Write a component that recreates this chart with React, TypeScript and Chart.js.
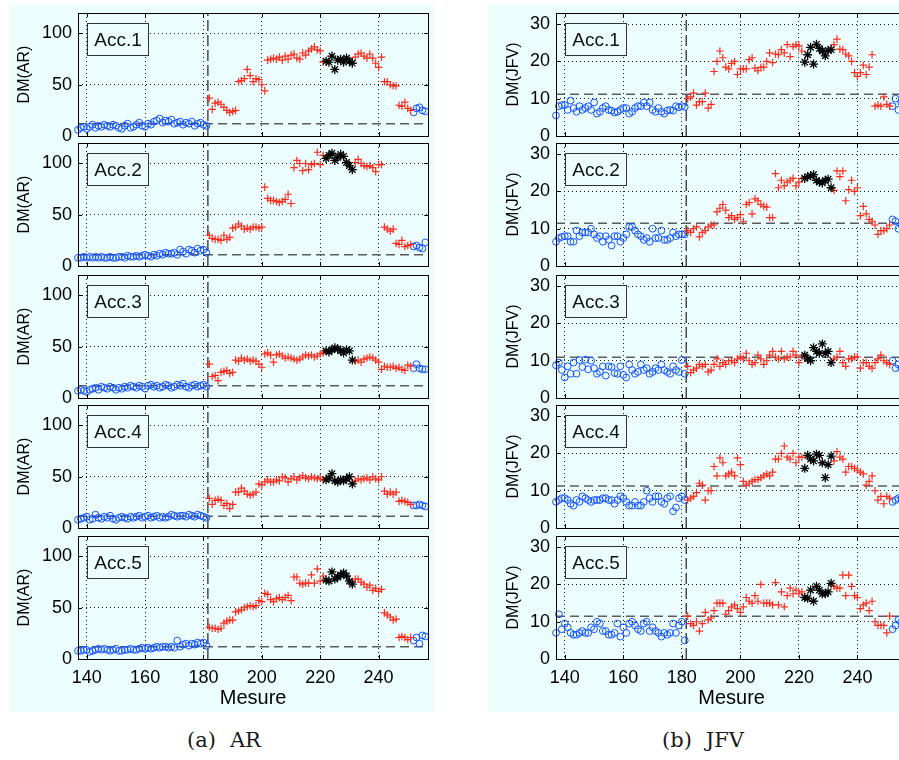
import React, { useEffect, useRef } from 'react';
import { Chart, registerables } from 'chart.js';

Chart.register(...registerables);
Chart.defaults.font.family = "'Liberation Sans', Arial, sans-serif";
Chart.defaults.color = '#000';

// ---------------- data ----------------
const X_FIRST = 137; // first measurement index
const X_MIN = 137;
const X_MAX = 257;
const X_TICKS = [140, 160, 180, 200, 220, 240];
const AR_Y_TICKS = [0, 50, 100];
const JFV_Y_TICKS = [0, 10, 20, 30];
const AR_Y_MAX = 120;
const JFV_Y_MAX = 33;
const CHANGE_POINT = 181.5;
const HEALTHY_END = 181;
const STAR_FIRST = 222;
const STAR_LAST = 231;
const HEALTHY_RESTART = 252;
const ACC_LABELS = ['Acc.1', 'Acc.2', 'Acc.3', 'Acc.4', 'Acc.5'];
const AR_THRESHOLDS = [12, 11, 12, 11.5, 12];
const JFV_THRESHOLDS = [11.2, 11.5, 10.9, 11.3, 11.5];

// values for measurements 137..256 (blue 137-181, red 182-221, stars 222-231, red 232-251, blue 252-256)
const AR_ACC1 = [
  6, 8, 9, 7, 9, 11, 8, 10, 9, 11, 10, 9, 11, 10, 8, 7, 10, 12, 8, 9, 11, 13, 10, 9, 12, 11, 14, 15, 17, 13, 15, 14, 16, 12, 13, 14, 11, 13, 12, 14, 10, 12, 13, 11, 10,
  37, 26, 32, 33, 31, 28, 25, 23, 24, 25, 53, 54, 56, 65, 59, 53, 56, 55, 50, 44, 74, 75, 76, 75, 77, 74, 78, 75, 79, 80, 76, 75, 81, 79, 83, 85, 87, 84, 83, 72,
  73, 72, 78, 65, 74, 75, 72, 76, 73, 71,
  77, 80, 81, 78, 76, 80, 76, 71, 67, 77, 53, 53, 50, 49, 49, 30, 29, 33, 27, 25,
  23, 27, 28, 25, 24,
];
const AR_ACC2 = [
  8, 8, 9, 8, 9, 8, 9, 8, 9, 8, 8, 9, 8, 8, 9, 9, 8, 10, 9, 9, 10, 9, 10, 11, 10, 9, 11, 10, 12, 11, 13, 12, 12, 13, 11, 16, 14, 12, 16, 15, 13, 17, 15, 16, 13,
  30, 27, 26, 26, 25, 30, 26, 28, 37, 38, 41, 39, 36, 37, 36, 38, 38, 37, 38, 77, 66, 64, 64, 63, 62, 63, 65, 70, 61, 96, 103, 100, 93, 100, 94, 99, 100, 111, 99, 108,
  105, 108, 110, 103, 106, 109, 107, 101, 98, 94,
  101, 104, 100, 98, 97, 98, 96, 92, 99, 99, 38, 36, 34, 36, 22, 21, 25, 19, 20, 21,
  19, 20, 18, 17, 23,
];
const AR_ACC3 = [
  7, 8, 7, 6, 8, 9, 10, 8, 11, 10, 9, 11, 10, 8, 10, 9, 11, 10, 12, 11, 10, 12, 11, 9, 12, 13, 11, 12, 10, 11, 13, 12, 10, 11, 13, 12, 14, 11, 10, 12, 13, 11, 12, 13, 11,
  33, 21, 22, 17, 25, 26, 27, 24, 25, 37, 36, 39, 37, 38, 36, 37, 36, 33, 30, 43, 44, 42, 35, 42, 43, 41, 39, 40, 39, 38, 37, 38, 40, 42, 41, 42, 40, 41, 43, 44,
  46, 45, 47, 49, 48, 46, 44, 47, 46, 37,
  36, 37, 35, 38, 39, 40, 39, 37, 35, 28, 31, 30, 30, 31, 29, 30, 28, 27, 32, 31,
  29, 33, 29, 28, 28,
];
const AR_ACC4 = [
  8, 9, 10, 11, 8, 9, 13, 10, 9, 11, 10, 12, 9, 8, 10, 11, 10, 9, 11, 10, 11, 12, 10, 11, 12, 10, 11, 12, 10, 11, 10, 11, 13, 12, 11, 12, 12, 11, 13, 12, 11, 13, 12, 11, 10,
  29, 23, 27, 28, 27, 22, 24, 19, 23, 35, 35, 39, 36, 33, 32, 33, 35, 43, 42, 45, 47, 45, 45, 47, 46, 50, 49, 45, 48, 50, 47, 49, 51, 49, 48, 50, 49, 48, 49, 47,
  47, 49, 53, 46, 45, 47, 46, 48, 50, 43,
  46, 48, 47, 48, 49, 47, 50, 48, 47, 50, 36, 33, 35, 33, 35, 26, 27, 26, 25, 23,
  22, 22, 23, 22, 21,
];
const AR_ACC5 = [
  8, 8, 9, 9, 7, 8, 9, 10, 9, 10, 9, 8, 9, 10, 8, 8, 9, 9, 10, 9, 9, 10, 11, 10, 11, 10, 11, 12, 11, 12, 12, 11, 12, 11, 18, 12, 14, 15, 13, 15, 14, 16, 15, 16, 13,
  31, 30, 30, 29, 30, 35, 37, 38, 38, 46, 47, 48, 50, 51, 52, 51, 52, 57, 56, 64, 63, 58, 56, 59, 60, 58, 60, 62, 57, 80, 80, 74, 73, 74, 74, 82, 74, 88, 76, 81,
  77, 76, 85, 78, 80, 82, 84, 81, 76, 73,
  78, 78, 75, 73, 70, 72, 67, 69, 66, 68, 45, 43, 41, 38, 39, 21, 22, 21, 19, 21,
  18, 21, 15, 23, 22,
];
const JFV_ACC1 = [
  5.5, 8, 8.3, 8.3, 7, 9.5, 7.5, 6.5, 8, 7, 7.5, 8, 7, 9, 6, 6.5, 7.5, 8, 7, 6.8, 6.3, 6.5, 7, 7.5, 7.5, 6, 6.5, 7.5, 8, 8, 9, 8, 9, 7, 6.5, 7.5, 6.5, 6, 6.8, 7, 6.8, 8, 7.7, 8, 7.8,
  10, 10.5, 11.5, 8.3, 9.2, 9.2, 11.5, 7.5, 8.5, 17.3, 20, 22.8, 21, 18.5, 18, 19.5, 20, 16.5, 18, 18, 18, 20.5, 21, 18.2, 17.5, 18.4, 18.5, 20, 22.3, 19.7, 22, 21.8, 23.2, 22.3, 24.5, 21.3, 24, 24.5, 24.2, 22.8,
  19.8, 21.8, 23.8, 19.3, 24.6, 23.5, 22.8, 21.5, 23, 23.2,
  24.5, 26, 23.3, 23.2, 22, 21.5, 20, 17, 16, 17, 19, 16.5, 18.5, 21.8, 8, 8.3, 8, 10.5, 8.5, 8,
  8, 10, 7, 9, 8,
];
const JFV_ACC2 = [
  6.5, 7.5, 7.8, 8, 8, 6.5, 6.5, 9.5, 8, 9, 9, 9, 10, 8.5, 7.5, 8, 6.5, 8, 7, 5.5, 8, 8, 6.5, 7.5, 8.5, 10.5, 10.5, 9.5, 8.5, 8, 7, 7.5, 6.5, 10, 7.5, 7.5, 9.5, 7, 7, 7.5, 9, 8, 8.5, 8.5, 8.5,
  9.5, 9, 10, 10.5, 7.8, 9, 9.5, 10.5, 11, 11, 14.5, 15.5, 16.5, 15, 13, 13.5, 12.5, 13, 13.8, 12, 16.5, 17, 14, 18, 17.5, 16.5, 16, 15.8, 13, 13, 24.8, 21, 23, 21.5, 22.5, 23, 23.5, 21.5, 22.5, 23.5,
  23.5, 24, 24.2, 24.5, 23, 22.5, 22.3, 23, 23.3, 21,
  20.3, 25.5, 24, 25.5, 17.5, 20.5, 23, 20, 21, 13.5, 16, 14, 12.5, 12, 11, 8.5, 9.5, 9.5, 10, 11,
  12.5, 12, 10, 11, 10,
];
const JFV_ACC3 = [
  8.8, 9.5, 7.5, 5.5, 8.5, 6.5, 9.5, 6.5, 10.2, 8.3, 10.3, 7.7, 10, 8, 6.5, 7, 8.5, 6, 8.5, 8.3, 6.7, 6.5, 8.5, 6.2, 5.5, 9, 7.5, 6.5, 7, 9, 7.5, 8, 6.5, 7, 8, 7.5, 9, 7.5, 7, 6.5, 8.5, 7.5, 7, 10.2, 6.5,
  8.5, 6.8, 7.5, 8, 9, 8.5, 9, 7, 7.5, 9, 10.5, 8.5, 9.5, 9, 10, 10, 9.5, 10.5, 11, 10.5, 12, 10, 9, 9.5, 11.5, 10.5, 9, 10, 11.5, 12.5, 11, 10.5, 12.5, 10.5, 11, 11, 12.5, 11.5, 9.5, 11,
  11.5, 10.5, 10, 13.5, 12.5, 12, 14.5, 12, 12.5, 9.5,
  10.5, 11, 12.5, 9.5, 8.5, 10.5, 10.5, 11, 11, 8, 9.5, 9.5, 8.5, 8, 9.5, 10.5, 11.5, 10, 9.5, 9,
  10, 8, 9, 8, 9,
];
const JFV_ACC4 = [
  7, 7.5, 8, 8, 7.5, 6.5, 6, 7.5, 7, 8.5, 8, 7.5, 7, 7.5, 7.5, 7.5, 8, 8, 7.5, 7.5, 6.5, 7.5, 8.5, 8, 7, 6, 6, 7, 6, 6, 7, 10, 8, 7, 8.5, 8.5, 7, 6.5, 8, 8.5, 4.5, 5.5, 8, 8.5, 7.5,
  7.5, 8, 8.5, 9.5, 12, 11.5, 7.5, 10, 10, 16.5, 14, 18.8, 17.5, 14, 14.5, 15, 14, 18.8, 17, 12.5, 11.5, 12, 12.5, 13, 13, 13.5, 14, 14.5, 14, 15, 18.5, 18.5, 20, 22, 19, 18.5, 20, 17.5, 19, 19,
  16, 19.5, 18.5, 18, 19.8, 19.5, 17.5, 13.5, 17, 19.3,
  18, 20.5, 19, 18.5, 15, 16.5, 16.5, 16, 15.5, 15, 14.5, 11.5, 12.5, 14, 10, 7.5, 8.5, 6.5, 8.5, 8,
  7, 7.5, 8, 8, 8,
];
const JFV_ACC5 = [
  7, 12, 8, 9.5, 8.5, 7, 6.5, 6.5, 7, 7.5, 7, 7, 8.5, 8, 10, 9.5, 7.5, 7.5, 6.5, 6.5, 7, 9.5, 6, 8.5, 7, 9.5, 10, 9, 8, 7.5, 9.5, 10, 7.5, 8.5, 7.5, 7, 6, 7, 6.5, 7, 9.5, 7, 9, 10, 5,
  11.5, 9.5, 9, 10, 7.5, 9.5, 12.5, 10.5, 11, 13, 15, 15, 15, 12, 13, 14, 14.5, 13.5, 12.5, 14, 16.5, 15.5, 15, 17, 15.5, 20, 15, 15, 15, 14.5, 20.5, 14.5, 18, 14, 17, 19, 17.5, 18.5, 17.5, 18,
  16.5, 16.3, 18.5, 15.5, 19.5, 18.5, 17.5, 17.5, 18, 20.3,
  19.5, 19, 19, 22.5, 17, 22.5, 19.5, 17, 16.5, 13.5, 14.5, 15, 13, 15.5, 10, 9, 9, 9, 7, 11.5,
  8, 9, 10.5, 10, 9,
];

const AR_SERIES = [AR_ACC1, AR_ACC2, AR_ACC3, AR_ACC4, AR_ACC5];
const JFV_SERIES = [JFV_ACC1, JFV_ACC2, JFV_ACC3, JFV_ACC4, JFV_ACC5];

// ---------------- styling / layout ----------------
const PANEL_BG = '#ecfdfe';
const BLUE = '#1452ff';
const RED = '#ff2d1e';
const ROW_TOPS = [13, 143, 275, 405, 536];
const PLOT_H = 123;

const framePlugin = {
  id: 'frame',
  afterDraw(chart: any, _args: any, opts: any) {
    const { ctx, chartArea: a, scales } = chart;
    ctx.save();
    ctx.strokeStyle = '#000';
    ctx.lineWidth = 1;
    ctx.setLineDash([]);
    ctx.beginPath();
    for (const v of X_TICKS) {
      const px = Math.round(scales.x.getPixelForValue(v)) + 0.5;
      ctx.moveTo(px, a.bottom);
      ctx.lineTo(px, a.bottom - 4);
      ctx.moveTo(px, a.top);
      ctx.lineTo(px, a.top + 4);
    }
    for (const v of opts.yTicks) {
      const py = Math.round(scales.y.getPixelForValue(v)) + 0.5;
      ctx.moveTo(a.left, py);
      ctx.lineTo(a.left + 4, py);
      ctx.moveTo(a.right, py);
      ctx.lineTo(a.right - 4, py);
    }
    ctx.stroke();
    ctx.strokeRect(Math.round(a.left) + 0.5, Math.round(a.top) + 0.5, Math.round(a.right - a.left), Math.round(a.bottom - a.top));
    // label box
    const bx = Math.round(a.left) + 9.5;
    const by = Math.round(a.top) + 10.5;
    const bw = 61;
    const bh = 32;
    ctx.fillStyle = PANEL_BG;
    ctx.fillRect(bx, by, bw, bh);
    ctx.strokeStyle = '#333';
    ctx.strokeRect(bx, by, bw, bh);
    ctx.fillStyle = '#111';
    ctx.font = "19px 'Liberation Sans', Arial, sans-serif";
    ctx.textAlign = 'center';
    ctx.textBaseline = 'middle';
    ctx.fillText(opts.label, bx + bw / 2, by + bh / 2 + 1);
    ctx.restore();
  },
};

type SubPlotProps = {
  values: number[];
  threshold: number;
  yMax: number;
  yTicks: number[];
  yTitle: string;
  label: string;
  col: number;
  row: number;
};

function SubPlot({ values, threshold, yMax, yTicks, yTitle, label, col, row }: SubPlotProps) {
  const ref = useRef<HTMLCanvasElement>(null);
  const isLast = row === 4;
  const top = ROW_TOPS[row] - 10;
  const height = PLOT_H + 10 + (isLast ? 53 : 10);
  const left = col === 0 ? 10 : 488;
  const width = col === 0 ? 424 : 425;
  const titlePad = col === 0 ? 5 : 15.5;

  useEffect(() => {
    if (!ref.current) return;
    const blue: { x: number; y: number }[] = [];
    const red: { x: number; y: number }[] = [];
    const star: { x: number; y: number }[] = [];
    values.forEach((v, i) => {
      const x = X_FIRST + i;
      const p = { x, y: v };
      if (x <= HEALTHY_END || x >= HEALTHY_RESTART) blue.push(p);
      else if (x >= STAR_FIRST && x <= STAR_LAST) star.push(p);
      else red.push(p);
    });
    const chart = new Chart(ref.current, {
      type: 'scatter',
      data: {
        datasets: [
          {
            data: [
              { x: X_MIN, y: threshold },
              { x: X_MAX, y: threshold },
            ],
            showLine: true,
            borderColor: '#5c5c5c',
            borderWidth: 1.5,
            borderDash: [9, 5],
            pointRadius: 0,
            order: 5,
          },
          {
            data: [
              { x: CHANGE_POINT, y: 0 },
              { x: CHANGE_POINT, y: yMax },
            ],
            showLine: true,
            borderColor: '#4a4a4a',
            borderWidth: 1.5,
            borderDash: [11, 4],
            pointRadius: 0,
            order: 5,
          },
          {
            data: blue,
            pointStyle: 'circle',
            pointRadius: 3.4,
            borderColor: BLUE,
            backgroundColor: 'rgba(0,0,0,0)',
            borderWidth: 1,
            clip: false,
            order: 2,
          },
          {
            data: red,
            pointStyle: 'cross',
            pointRadius: 3.8,
            borderColor: RED,
            backgroundColor: RED,
            borderWidth: 1.2,
            clip: false,
            order: 1,
          },
          {
            data: star,
            pointStyle: 'star',
            pointRadius: 4.5,
            borderColor: '#000',
            backgroundColor: '#000',
            borderWidth: 1.3,
            clip: false,
            order: 0,
          },
        ],
      } as any,
      options: {
        responsive: false,
        animation: false,
        devicePixelRatio: 1,
        events: [],
        layout: { padding: { top: 10, bottom: isLast ? 2 : 10, left: 0, right: 5 } },
        plugins: {
          legend: { display: false },
          tooltip: { enabled: false },
          frame: { label, yTicks },
        } as any,
        scales: {
          x: {
            type: 'linear',
            min: X_MIN,
            max: X_MAX,
            afterBuildTicks: (s: any) => {
              s.ticks = X_TICKS.map((v) => ({ value: v }));
            },
            afterFit: (s: any) => {
              s.height = isLast ? 51 : 0;
              s.paddingLeft = 0;
              s.paddingRight = 0;
            },
            grid: { color: '#1a1a1a', lineWidth: 1, drawTicks: false },
            border: { display: false, dash: [1, 3] },
            ticks: { display: isLast, padding: 8, font: { size: 18 }, color: '#000' },
            title: {
              display: isLast,
              text: 'Mesure',
              font: { size: 20 },
              color: '#000',
              padding: { top: 0, bottom: 0 },
            },
          },
          y: {
            type: 'linear',
            min: 0,
            max: yMax,
            afterBuildTicks: (s: any) => {
              s.ticks = yTicks.map((v) => ({ value: v }));
            },
            afterFit: (s: any) => {
              s.width = 68;
              s.paddingTop = 0;
              s.paddingBottom = 0;
            },
            grid: { color: '#1a1a1a', lineWidth: 1, drawTicks: false },
            border: { display: false, dash: [1, 3] },
            ticks: { padding: 6, font: { size: 18 }, color: '#000' },
            title: {
              display: true,
              text: yTitle,
              font: { size: 16 },
              color: '#000',
              padding: { top: titlePad, bottom: 0 },
            },
          },
        } as any,
      },
      plugins: [framePlugin as any],
    });
    return () => chart.destroy();
  }, []);

  return (
    <canvas
      ref={ref}
      width={width}
      height={height}
      style={{ position: 'absolute', left, top, width, height }}
    />
  );
}

const captionStyle: React.CSSProperties = {
  position: 'absolute',
  top: 727,
  width: 200,
  textAlign: 'center',
  fontFamily: "'DejaVu Serif', 'Liberation Serif', serif",
  fontSize: 21,
  lineHeight: '26px',
  color: '#1a1a1a',
  whiteSpace: 'nowrap',
};

export default function App() {
  return (
    <div
      style={{
        position: 'fixed',
        left: 0,
        top: 0,
        width: 899,
        height: 760,
        overflow: 'hidden',
        background: '#ffffff',
      }}
    >
      <div style={{ position: 'absolute', left: 10, top: 5, width: 424, height: 707, background: PANEL_BG }} />
      <div style={{ position: 'absolute', left: 488, top: 5, width: 420, height: 707, background: PANEL_BG }} />
      {AR_SERIES.map((vals, r) => (
        <SubPlot
          key={'ar' + r}
          values={vals}
          threshold={AR_THRESHOLDS[r]}
          yMax={AR_Y_MAX}
          yTicks={AR_Y_TICKS}
          yTitle="DM(AR)"
          label={ACC_LABELS[r]}
          col={0}
          row={r}
        />
      ))}
      {JFV_SERIES.map((vals, r) => (
        <SubPlot
          key={'jfv' + r}
          values={vals}
          threshold={JFV_THRESHOLDS[r]}
          yMax={JFV_Y_MAX}
          yTicks={JFV_Y_TICKS}
          yTitle="DM(JFV)"
          label={ACC_LABELS[r]}
          col={1}
          row={r}
        />
      ))}
      <div style={{ ...captionStyle, left: 124 }}>
        <span>(a)</span>
        <span style={{ marginLeft: 14 }}>AR</span>
      </div>
      <div style={{ ...captionStyle, left: 603 }}>
        <span>(b)</span>
        <span style={{ marginLeft: 14 }}>JFV</span>
      </div>
    </div>
  );
}
